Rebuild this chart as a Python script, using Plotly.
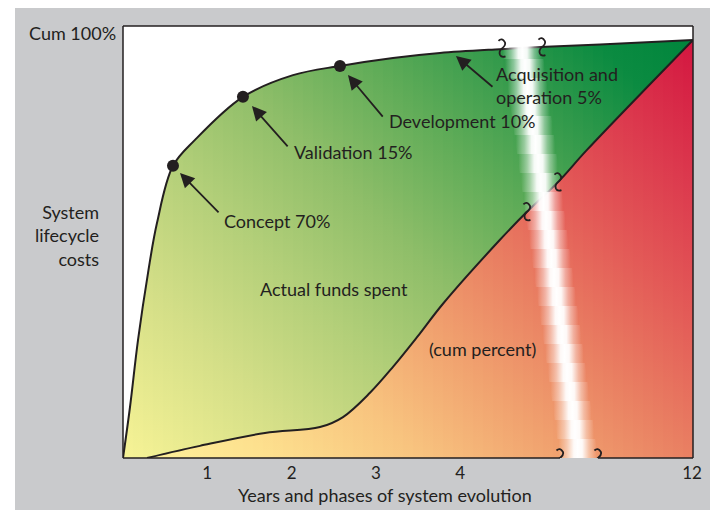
import plotly.graph_objects as go

# ---------------- data ----------------
YEAR_TICKS = [1, 2, 3, 4, 6.75]
YEAR_LABELS = ["1", "2", "3", "4", "12"]

# committed life-cycle cost (cum %)
COMMIT_X = [0, 0.083, 0.178, 0.297, 0.403, 0.593, 0.854, 1.423, 2.017, 2.574,
            3.203, 3.760, 4.472, 4.947, 5.658, 6.762]
COMMIT_Y = [0, 12.2, 28.2, 44.3, 56.2, 69.9, 76.1, 86.4, 91.6, 93.8,
            95.7, 96.9, 97.8, 98.3, 98.9, 100]

# actual funds spent (cum %)
SPENT_X = [0.285, 0.913, 1.684, 2.337, 2.610, 2.930, 3.203, 3.488, 3.796,
           4.472, 4.792, 5.160, 5.504, 6.762]
SPENT_Y = [0, 2.9, 6.0, 7.4, 9.8, 15.6, 21.8, 28.9, 36.9,
           52.2, 58.9, 66.0, 73.7, 100]

# phase milestones on the committed curve
PHASE_X = [0.593, 1.423, 2.574]
PHASE_Y = [69.9, 86.4, 93.8]
PHASE_LABELS = ["Concept 70%", "Validation 15%", "Development 10%"]
ACQ_LABEL = "Acquisition and<br>operation 5%"

# ---------------- layout geometry ----------------
W, H = 718, 510
OFF = 8                      # page body margin
PLOT_L, PLOT_B = 123, 458    # plot-area left / bottom in page pixels
ML, MT = PLOT_L - OFF, 26 - OFF
PW, PH = 570, 432
MR, MB = W - ML - PW, H - MT - PH
X_MAX = 6.762
PX_PER_Y = 4.18
Y_MAX = PH / PX_PER_Y
PX_PER_X = PW / X_MAX
S_MAX = PW + 100 * PX_PER_Y


def pxx(px):
    return (px - PLOT_L) / PW


def pxy(py):
    return (PLOT_B - py) / PH


INK = "#231f20"
FONT = "Lato"

GREEN_SCALE = [[0, "#f7f396"], [0.2, "#d3de87"], [0.35, "#b3cf79"], [0.5, "#8fbe69"],
               [0.65, "#60ac58"], [0.8, "#2e984a"], [0.9, "#0b8b41"], [1, "#00853c"]]
RED_SCALE = [[0, "#fdf39c"], [0.15, "#fde08e"], [0.3, "#f8c47f"], [0.45, "#f0a06e"],
             [0.58, "#e97f62"], [0.72, "#e35a57"], [0.85, "#dc3a4e"], [1, "#d31640"]]

fig = go.Figure()
axes = {}

# diagonal gradient: narrow vertical slabs, each its own x-axis (clips the fill)
SLAB = 10
n_slabs = PW // SLAB
for k in range(n_slabs):
    aid = k + 2
    c = (k + 0.5) * SLAB
    start = -c / PX_PER_Y
    stop = (S_MAX - c) / PX_PER_Y
    for xs, ys, scale in ((COMMIT_X, COMMIT_Y, GREEN_SCALE), (SPENT_X, SPENT_Y, RED_SCALE)):
        fig.add_trace(go.Scatter(
            x=xs, y=ys, xaxis=f"x{aid}", yaxis="y", mode="lines",
            line=dict(width=0, shape="spline", simplify=False),
            fill="tozeroy",
            fillgradient=dict(type="vertical", colorscale=scale, start=start, stop=stop),
            hoverinfo="skip", showlegend=False))
    axes[f"xaxis{aid}"] = dict(domain=[k * SLAB / PW, (k + 1) * SLAB / PW],
                               range=[k * SLAB / PX_PER_X, (k + 1) * SLAB / PX_PER_X],
                               visible=False, anchor="y", fixedrange=True)

TOP = f"x{n_slabs + 2}"
axes[f"xaxis{n_slabs + 2}"] = dict(domain=[0, 1], range=[0, X_MAX], visible=False,
                                   anchor="y", fixedrange=True)

# curve outlines
for xs, ys in ((COMMIT_X, COMMIT_Y), (SPENT_X, SPENT_Y)):
    fig.add_trace(go.Scatter(x=xs, y=ys, xaxis=TOP, yaxis="y", mode="lines",
                             line=dict(color=INK, width=2, shape="spline", simplify=False),
                             hoverinfo="skip", showlegend=False))

# axis break band (white, soft edges)
BAND_Y1 = 98.3
BAND_L = (5.184, 4.496)   # left edge x at y=0 and y=BAND_Y1
BAND_R = (5.634, 4.970)   # right edge


def edge(e, y):
    return e[0] + (e[1] - e[0]) * y / BAND_Y1


BAND_SCALE = [[0, "rgba(255,255,255,0)"], [0.22, "rgba(255,255,255,0.45)"],
              [0.4, "rgba(255,255,255,0.95)"], [0.5, "rgba(255,255,255,1)"],
              [0.62, "rgba(255,255,255,0.95)"], [0.8, "rgba(255,255,255,0.4)"],
              [1, "rgba(255,255,255,0)"]]
SEG = 19
for j in range(418 // SEG):
    ya, yb = j * SEG / PX_PER_Y, (j + 1) * SEG / PX_PER_Y
    ym = (ya + yb) / 2
    fig.add_trace(go.Scatter(
        x=[edge(BAND_L, ya), edge(BAND_R, ya), edge(BAND_R, yb), edge(BAND_L, yb)],
        y=[ya, ya, yb, yb], xaxis=TOP, yaxis="y", mode="lines",
        line=dict(width=0), fill="toself",
        fillgradient=dict(type="horizontal", colorscale=BAND_SCALE,
                          start=edge(BAND_L, ym), stop=edge(BAND_R, ym)),
        hoverinfo="skip", showlegend=False))

# milestone dots
fig.add_trace(go.Scatter(x=PHASE_X, y=PHASE_Y, xaxis=TOP, yaxis="y", mode="markers",
                         marker=dict(size=12, color=INK), hoverinfo="skip", showlegend=False))

# ---------------- annotations ----------------
ann = []
txt = dict(family=FONT, size=18, color=INK)
label_pos = [(1.174, 56.7), (2.005, 73.2), (3.132, 80.6)]
for lab, (lx, ly) in zip(PHASE_LABELS, label_pos):
    ann.append(dict(x=lx, y=ly, xref="x", yref="y", text=lab, showarrow=False,
                    xanchor="left", yanchor="middle", font=txt))
ann.append(dict(x=4.401, y=89.0, xref="x", yref="y", text=ACQ_LABEL, showarrow=False,
                xanchor="left", yanchor="middle", align="left", font=txt))
ann.append(dict(x=2.503, y=40.4, xref="x", yref="y", text="Actual funds spent",
                showarrow=False, font=txt))
ann.append(dict(x=4.259, y=26.1, xref="x", yref="y", text="(cum percent)",
                showarrow=False, font=txt))

arrows = [((0.676, 68.2), (1.151, 58.4)), ((1.530, 84.2), (1.969, 74.2)),
          ((2.669, 91.6), (3.096, 81.3)), ((3.950, 96.2), (4.401, 88.5))]
for (tx, ty), (sx, sy) in arrows:
    ann.append(dict(x=tx, y=ty, xref="x", yref="y", ax=sx, ay=sy, axref="x", ayref="y",
                    text="", showarrow=True, arrowhead=2, arrowsize=1.6, arrowwidth=1.8,
                    arrowcolor=INK, standoff=0, startstandoff=0))

ann.append(dict(x=pxx(118), y=pxy(33), xref="paper", yref="paper",
                text="Cum 100%", showarrow=False, xanchor="right", yanchor="middle", font=txt))
ann.append(dict(x=pxx(101), y=pxy(235), xref="paper", yref="paper",
                text="System<br>lifecycle<br>costs", showarrow=False, xanchor="right",
                yanchor="middle", align="right", font=txt))
ann.append(dict(x=pxx(385), y=pxy(495), xref="paper", yref="paper",
                text="Years and phases of system evolution", showarrow=False,
                xanchor="center", yanchor="middle", font=txt))

# ---------------- shapes ----------------
shapes = [
    dict(type="rect", xref="paper", yref="paper", x0=pxx(-20), x1=pxx(15),
         y0=pxy(560), y1=pxy(-20), fillcolor="white", line_width=0, layer="below"),
    dict(type="rect", xref="paper", yref="paper", x0=0, x1=1, y0=0, y1=1,
         fillcolor="white", line_width=0, layer="below"),
]
border = dict(color=INK, width=1.5)
shapes += [
    dict(type="line", xref="paper", yref="paper", x0=0, x1=0, y0=0, y1=1, line=border),
    dict(type="line", xref="paper", yref="paper", x0=0, x1=1, y0=1, y1=1, line=border),
    dict(type="line", xref="paper", yref="paper", x0=1, x1=1, y0=0, y1=1, line=border),
    dict(type="line", xref="x", yref="paper", x0=0, x1=BAND_L[0], y0=0, y1=0, line=border),
    dict(type="line", xref="x", yref="paper", x0=BAND_R[0], x1=X_MAX, y0=0, y1=0, line=border),
]

# axis-break marks (small reversed-S squiggles), offsets in pixels
SQ = [(-3.5, -7.5), (0, -11), (3, -6), (4, -3), (0, 0), (-3.5, 3), (-2, 6.5), (-0.5, 9.5), (3.5, 8)]
marks = [(4.496, 98.0), (4.970, 98.3), (4.792, 58.9), (5.160, 66.0), (5.184, 0), (5.634, 0)]
for mx, my in marks:
    p = [(mx + dx / PX_PER_X, my - dy / PX_PER_Y) for dx, dy in SQ]
    path = "M {},{} Q {},{} {},{} Q {},{} {},{} Q {},{} {},{} Q {},{} {},{}".format(
        *[v for pt in p for v in pt])
    shapes.append(dict(type="path", xref="x", yref="y", path=path,
                       line=dict(color=INK, width=1.8), layer="above"))

fig.update_layout(
    width=W, height=H, margin=dict(l=ML, r=MR, t=MT, b=MB),
    paper_bgcolor="#c9cacc", plot_bgcolor="rgba(0,0,0,0)",
    showlegend=False, annotations=ann, shapes=shapes,
    xaxis=dict(domain=[0, 1], range=[0, X_MAX], tickvals=YEAR_TICKS, ticktext=YEAR_LABELS,
               ticks="", showgrid=False, zeroline=False, showline=False, anchor="y",
               ticklabelstandoff=3, automargin=False,
               tickfont=dict(family=FONT, size=17, color=INK), fixedrange=True),
    yaxis=dict(domain=[0, 1], range=[0, Y_MAX], showticklabels=False, ticks="",
               showgrid=False, zeroline=False, showline=False, anchor="x", fixedrange=True),
    **axes,
)

fig.write_html("out.html")
